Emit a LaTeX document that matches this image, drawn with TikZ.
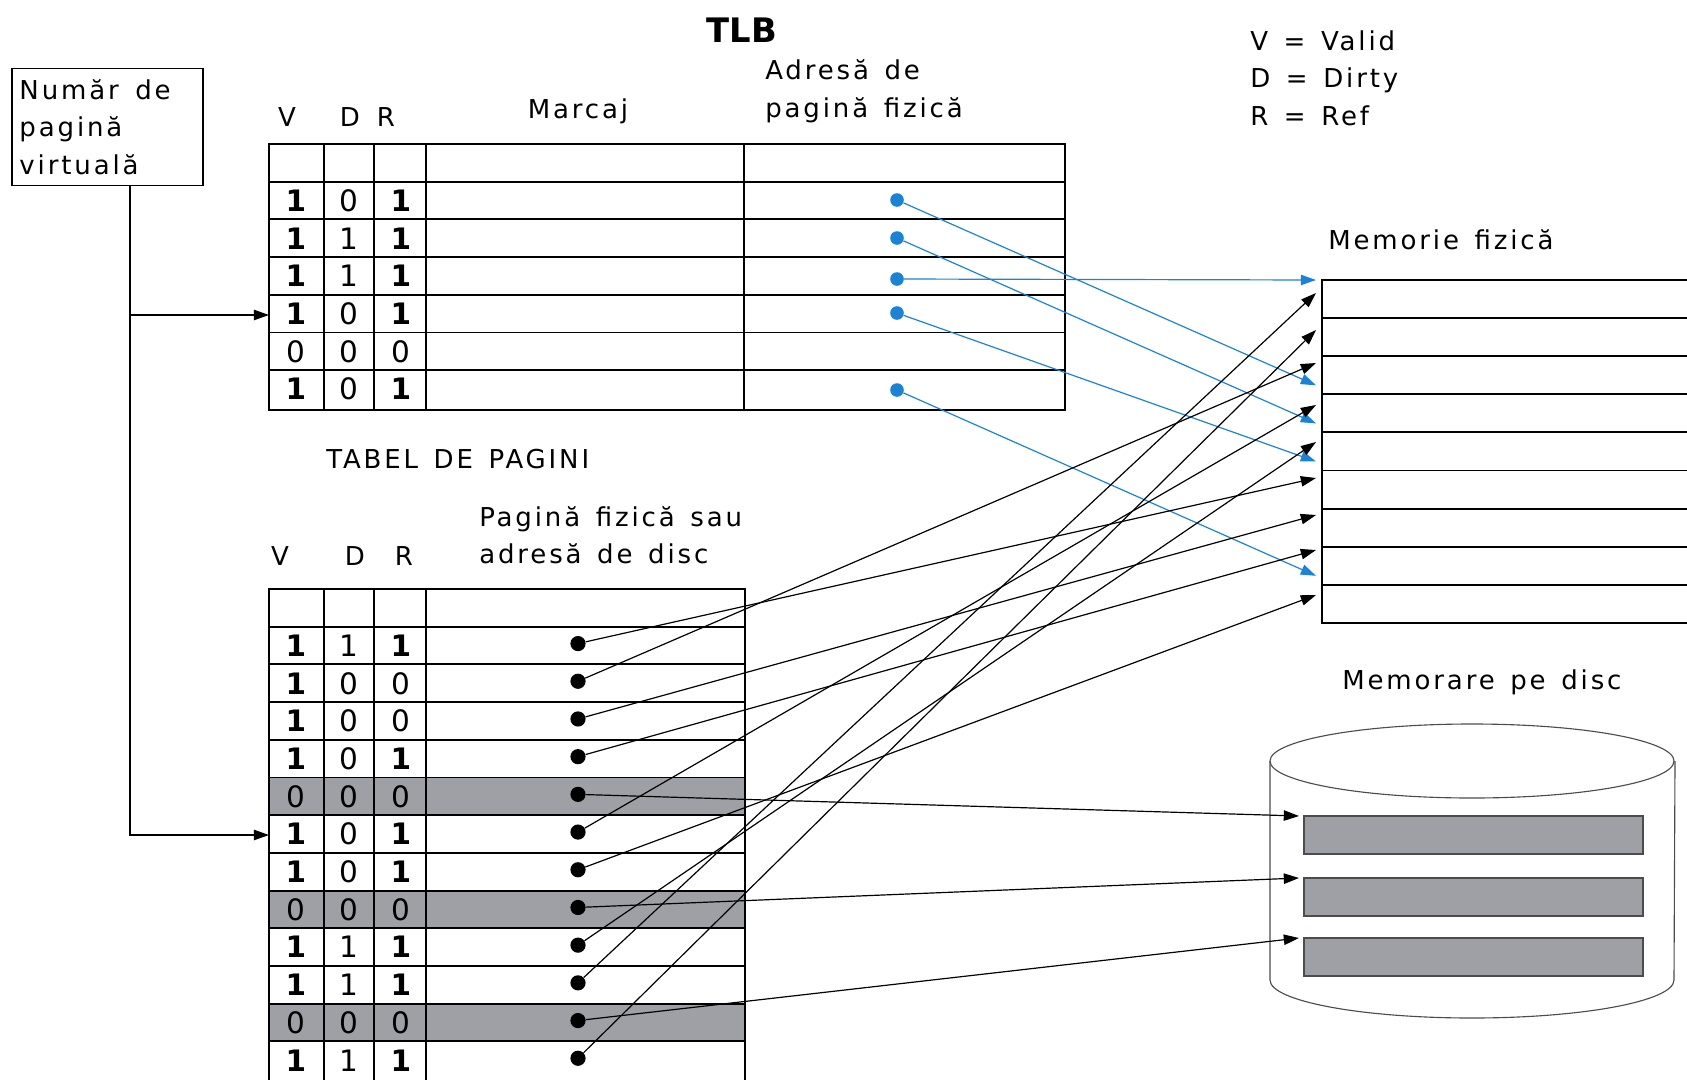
\documentclass[tikz,border=0pt]{standalone}
\usepackage{fontspec}
\setmainfont{DejaVu Sans}
\newfontfamily\lblfont{DejaVu Sans}[LetterSpace=11, WordSpace=1.4]
\usetikzlibrary{arrows.meta}

\definecolor{ptrblue}{RGB}{28,130,212}
\definecolor{rowgray}{RGB}{158,160,166}

\newcommand\flagbit[1]{\ifnum#1=1 \textbf{1}\else 0\fi}

\tikzset{
    tbl/.style={line width=1.3pt},
    lbl/.style={font=\lblfont\fontsize{18.5}{26.7}\selectfont, inner sep=0pt},
    digit/.style={font=\fontsize{21}{24}\selectfont, inner sep=0pt},
    bdot/.style={circle, fill=ptrblue, inner sep=0pt, minimum size=3.4mm},
    kdot/.style={circle, fill=black, inner sep=0pt, minimum size=3.8mm},
    ptr/.style={line width=0.85pt, -{Triangle[length=3.8mm, width=2.6mm]}},
    bptr/.style={ptr, draw=ptrblue},
    disk/.style={draw=black!70, line width=0.8pt},
    vpnbox/.style={lbl, draw, line width=1pt, align=left, text width=44mm,
        inner xsep=1.9mm, minimum height=29.2mm}
}

\begin{document}
\begin{tikzpicture}[x=0.25mm, y=-0.25mm]
    \useasboundingbox (0,0) rectangle (1687,1080);

    % Titles
    \node[font=\bfseries\fontsize{24}{28}\selectfont] (tlbt) at (742,30) {TLB};
    \node[lbl, anchor=west, align=left] (legend) at (1250,78) {V = Valid\\D = Dirty\\R = Ref};
    \node[vpnbox] (vpn) at (107.5,127) {Număr\hspace{0.3em} de\\pagină\\virtuală};

    % TLB
    \node[lbl] (tv) at (287,117) {V};
    \node[lbl] (td) at (350,117) {D};
    \node[lbl] (tr) at (386,117) {R};
    \node[lbl] (marcaj) at (578,111) {Marcaj};
    \node[lbl, anchor=west, align=left] (tadr) at (765,91) {Adresă de\\pagină fizică};

    \draw[tbl] (269,144) rectangle (1065,410);
    \foreach \k in {1,...,6}
        \draw[tbl] (269,{144+37.7*\k}) -- (1065,{144+37.7*\k});
    \foreach \xx in {324,374,426,744}
        \draw[tbl] (\xx,144) -- (\xx,410);

    \foreach \fv/\fd/\fr [count=\i] in {1/0/1,1/1/1,1/1/1,1/0/1,0/0/0,1/0/1} {
        \node[digit] (tv\i) at (296,{162.85+37.7*\i}) {\flagbit{\fv}};
        \node[digit] (td\i) at (349,{162.85+37.7*\i}) {\fd};
        \node[digit] (tr\i) at (401,{162.85+37.7*\i}) {\flagbit{\fr}};
    }
    \foreach \i/\yy in {1/200,2/238,3/279,4/313,6/390}
        \node[bdot] (t\i) at (897,\yy) {};

    % Page table
    \node[lbl, anchor=west] (ptitle) at (326,459) {TABEL DE PAGINI};
    \node[lbl] (pv) at (280,556) {V};
    \node[lbl] (pd) at (355,556) {D};
    \node[lbl] (pr) at (404,556) {R};
    \node[lbl, anchor=west, align=left] (padr) at (479,535) {Pagină fizică sau\\adresă de disc};

    \foreach \i in {5,8,11}
        \fill[rowgray] (269,{589+37.7*\i}) rectangle (746,{589+37.7*(\i+1)});
    \draw[tbl] (269,589) rectangle (745,1085);
    \foreach \k in {1,...,12}
        \draw[tbl] (269,{589+37.7*\k}) -- (745,{589+37.7*\k});
    \foreach \xx in {324,374,426}
        \draw[tbl] (\xx,589) -- (\xx,1085);

    \foreach \fv/\fd/\fr [count=\i] in {1/1/1,1/0/0,1/0/0,1/0/1,0/0/0,1/0/1,
                                       1/0/1,0/0/0,1/1/1,1/1/1,0/0/0,1/1/1} {
        \node[digit] (pv\i) at (296,{607.85+37.7*\i}) {\flagbit{\fv}};
        \node[digit] (pd\i) at (349,{607.85+37.7*\i}) {\fd};
        \node[digit] (pr\i) at (401,{607.85+37.7*\i}) {\flagbit{\fr}};
        \node[kdot] (p\i) at (578,{605.85+37.7*\i}) {};
    }

    % Physical memory
    \node[lbl, anchor=west] (memt) at (1328,240) {Memorie fizică};
    \draw[tbl] (1322,280) rectangle (1700,623);
    \foreach \k in {1,...,8}
        \draw[tbl] (1322,{280+38.1*\k}) -- (1700,{280+38.1*\k});

    \foreach \k/\yy in {1/293,2/330,3/363,4/405,5/442,6/478,7/515,8/550,9/595}
        \coordinate (m\k) at (1316,\yy);
    \coordinate (b1) at (1316,280);
    \foreach \k in {4,5,6,9}
        \coordinate (b\k) at (1316,{280+38.1*(\k-1)-9});

    % Disk
    \node[lbl, anchor=west] (diskt) at (1342,682) {Memorare pe disc};
    \draw[disk] (1472,761) ellipse [x radius=202, y radius=37];
    \draw[disk] (1270,761) -- (1270,980) arc [start angle=180, end angle=0, x radius=202, y radius=38] -- (1675,761);
    \foreach \yy [count=\k] in {816,878,938} {
        \draw[disk, fill=rowgray] (1304,\yy) rectangle (1643,\yy+38);
        \coordinate (d\k) at (1299,\yy);
    }

    % Pointers
    \coordinate (jt) at (130,315);
    \coordinate (jp) at (130,835);
    \coordinate (tlbin) at (269,315);
    \coordinate (ptin) at (269,835);
    \draw[ptr, line width=1pt] (vpn.south -| jp) -- (jp) -- (ptin);
    \draw[ptr, line width=1pt] (jt) -- (tlbin);

    \foreach \s/\t in {t1/b4,t2/b5,t3/b1,t4/b6,t6/b9}
        \draw[bptr] (\s) -- (\t);
    \foreach \s/\t in {p1/m6,p2/m3,p3/m7,p4/m8,p6/m4,p7/m9,p9/m5,p10/m1,p12/m2,
                       p5/d1,p8/d2,p11/d3}
        \draw[ptr] (\s) -- (\t);
\end{tikzpicture}
\end{document}
